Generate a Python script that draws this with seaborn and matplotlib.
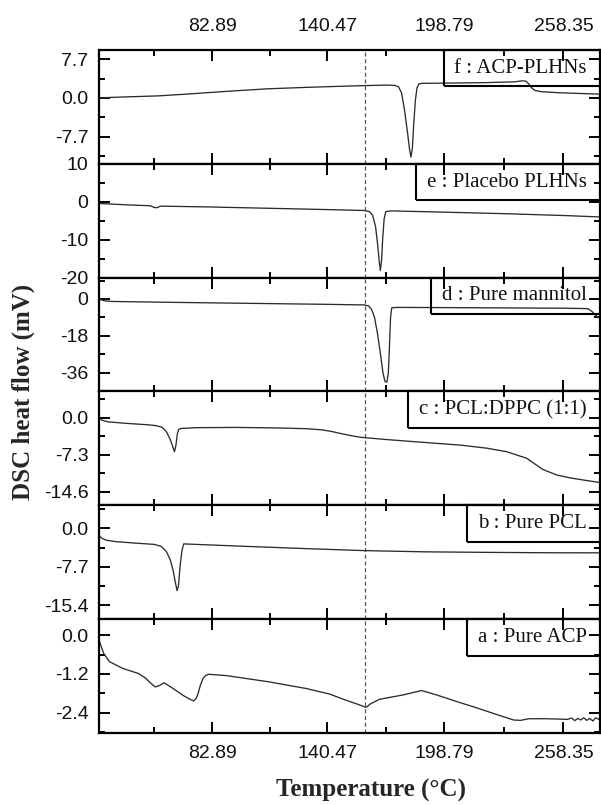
import numpy as np
import pandas as pd
import matplotlib
matplotlib.use("Agg")
import matplotlib.pyplot as plt
import seaborn as sns
from matplotlib.patches import Rectangle

# ---------------- data ----------------
temp_f = [26.4, 40, 56, 70, 90, 110, 130, 150, 159, 170, 174, 176, 177.5, 179, 180.5, 181.5, 182.2,
          182.9, 183.6, 184.4, 185.2, 186.2, 188, 200, 220, 234, 237.5, 239.5, 241, 242.5, 244, 247,
          255, 265, 276.6]
dsc_f = [0.0, 0.2, 0.4, 0.75, 1.3, 1.8, 2.1, 2.35, 2.45, 2.55, 2.5, 2.2, 1.0, -2.5, -7.0, -10.3, -11.8,
         -10.0, -5.0, -0.5, 2.0, 2.8, 2.9, 2.95, 3.05, 3.2, 3.4, 3.35, 2.8, 2.0, 1.5, 1.25,
         1.05, 0.9, 0.75]

temp_e = [26.4, 40, 52, 54, 55.5, 57, 80, 110, 140, 159, 161.5, 163, 164.5, 165.5, 166.3, 166.9,
          167.5, 168.1, 168.8, 169.6, 172, 200, 230, 260, 276.6]
dsc_e = [-0.45, -0.8, -1.05, -1.5, -1.55, -1.15, -1.35, -1.7, -2.05, -2.3, -2.6, -3.5, -6.5, -11,
         -15.5, -18.1, -15.5, -9.5, -4.5, -2.6, -2.4, -2.75, -3.15, -3.65, -4.0]

temp_d = [26.4, 28, 30, 33, 60, 100, 140, 159, 161, 162.5, 164, 165.5, 167, 168.2, 169.2, 170.2,
          170.9, 171.5, 172, 172.6, 175, 200, 230, 260, 270.5, 272.5, 274.5, 276.6]
dsc_d = [0.0, -0.6, -1.0, -1.2, -1.6, -2.1, -2.6, -2.9, -3.4, -5.0, -9.0, -17, -27, -36, -40.2,
         -40.5, -36, -22, -9, -4.3, -4.1, -4.2, -4.35, -4.5, -4.7, -6.0, -8.0, -9.6]

temp_c = [26.4, 28, 31, 40, 50, 55, 58, 60, 62, 63.3, 64.1, 64.8, 65.5, 66.2, 67.5, 75, 95, 115,
          130, 137, 142, 147, 152, 157, 170, 190, 207, 220, 230, 240, 248, 255, 262, 270, 276.6]
dsc_c = [0.0, -0.5, -0.8, -1.1, -1.35, -1.55, -1.9, -2.7, -4.3, -5.8, -6.7, -5.5, -3.2, -2.3, -2.1,
         -1.95, -1.9, -2.0, -2.15, -2.35, -2.65, -3.1, -3.5, -3.85, -4.3, -4.9, -5.4, -6.0, -6.7,
         -8.0, -10.2, -11.3, -11.9, -12.4, -12.8]

temp_b = [26.4, 28, 30, 35, 45, 54, 57.5, 60, 62, 63.5, 64.6, 65.4, 66.1, 66.9, 67.8, 68.7, 75, 100,
          130, 159, 190, 220, 250, 276.6]
dsc_b = [-1.5, -2.0, -2.35, -2.65, -2.95, -3.2, -3.6, -4.6, -6.3, -8.6, -11.0, -12.5, -11.5, -7.5,
         -4.5, -3.1, -3.2, -3.6, -4.05, -4.45, -4.7, -4.8, -4.88, -4.9]

temp_a = [26.4, 27.2, 28.7, 31.6, 38.3, 45.9, 49.7, 52.5, 54.5, 56.8, 58.9, 63.2, 68.9, 72.5, 73.7,
          75.0, 76.0, 77.0, 78.4, 79.8, 81.3, 90, 111, 130, 141.6, 149.3, 155, 159.8, 162, 166.5,
          178, 187.5, 195.2, 205, 214.3, 225, 233.5, 237, 241.1, 250, 260.3, 262.5, 264, 265.5,
          267, 268.5, 270, 271.5, 273, 274.5, 276, 276.6]
dsc_a = [-0.15, -0.3, -0.56, -0.82, -1.03, -1.18, -1.33, -1.5, -1.6, -1.55, -1.47, -1.64, -1.88,
         -2.0, -2.03, -1.95, -1.78, -1.55, -1.33, -1.24, -1.21, -1.25, -1.44, -1.65, -1.82, -2.0,
         -2.12, -2.23, -2.12, -1.98, -1.85, -1.71, -1.85, -2.05, -2.23, -2.45, -2.62, -2.63,
         -2.58, -2.58, -2.6, -2.56, -2.64, -2.57, -2.62, -2.55, -2.63, -2.57, -2.65, -2.55,
         -2.6, -2.56]

panel_labels = ["f : ACP-PLHNs", "e : Placebo PLHNs", "d : Pure mannitol",
                "c : PCL:DPPC (1:1)", "b : Pure PCL", "a : Pure ACP"]

x_ticks = [82.89, 140.47, 198.79, 258.35]
x_tick_labels = ["82.89", "140.47", "198.79", "258.35"]
x_minor = [54.1, 111.68, 169.63, 228.57]

y_ticks = [[7.7, 0.0, -7.7], [10, 0, -10, -20], [0, -18, -36],
           [0.0, -7.3, -14.6], [0.0, -7.7, -15.4], [0.0, -1.2, -2.4]]
y_tick_labels = [["7.7", "0.0", "-7.7"], ["10", "0", "-10", "-20"], ["0", "-18", "-36"],
                 ["0.0", "-7.3", "-14.6"], ["0.0", "-7.7", "-15.4"], ["0.0", "-1.2", "-2.4"]]
y_minor = [[3.85, -3.85, -11.55], [5, -5, -15], [9, -9, -27, -45],
           [3.65, -3.65, -10.95], [3.85, -3.85, -11.55], [-0.6, -1.8, -3.0]]
y_limits = [(-13.15, 9.55), (-20, 10), (-45.1, 10.4), (-17.3, 5.2), (-18.24, 4.66), (-3.02, 0.49)]

x_limits = (26.4, 276.6)
dashed_temp = 159.2

temps = [temp_f, temp_e, temp_d, temp_c, temp_b, temp_a]
dscs = [dsc_f, dsc_e, dsc_d, dsc_c, dsc_b, dsc_a]

frames = []
for lab, t, v in zip(panel_labels, temps, dscs):
    frames.append(pd.DataFrame({"Temperature": t, "DSC": v, "sample": lab}))
df = pd.concat(frames, ignore_index=True)

# ---------------- figure ----------------
sns.set_style("ticks")
plt.rcParams["font.family"] = ["Liberation Sans", "DejaVu Sans"]
plt.rcParams["axes.linewidth"] = 1.6

W, H = 601, 805
fig = plt.figure(figsize=(W / 100, H / 100), dpi=100)
ax_left, ax_right, ax_top, ax_bot = 99, 600, 50, 733
gs = fig.add_gridspec(6, 1, left=ax_left / W, right=ax_right / W,
                      top=1 - ax_top / H, bottom=1 - ax_bot / H, hspace=0)

panel_h_px = (ax_bot - ax_top) / 6
box_h = 36.5 / panel_h_px
text_right_px = 587

axes = []
for i, lab in enumerate(panel_labels):
    ax = fig.add_subplot(gs[i, 0])
    axes.append(ax)
    sub = df[df["sample"] == lab]
    sns.lineplot(data=sub, x="Temperature", y="DSC", ax=ax, sort=False, estimator=None,
                 color="#2b2b2b", linewidth=0.95)
    ax.axvline(dashed_temp, color="#555555", linewidth=0.9, linestyle=(0, (3.2, 2.2)), zorder=1)
    ax.set_xlim(*x_limits)
    ax.set_ylim(*y_limits[i])
    ax.set_xlabel("")
    ax.set_ylabel("")
    ax.set_xticks(x_ticks)
    ax.set_xticklabels(x_tick_labels)
    ax.set_xticks(x_minor, minor=True)
    ax.set_yticks(y_ticks[i])
    ax.set_yticklabels(y_tick_labels[i])
    ax.set_yticks(y_minor[i], minor=True)
    for sp in ax.spines.values():
        sp.set_visible(True)
        sp.set_linewidth(1.6)
        sp.set_color("black")
    ax.tick_params(which="both", direction="in", top=True, right=True, bottom=True, left=True,
                   color="black", labelsize=14, labelcolor="#111111")
    ax.tick_params(which="major", length=8, width=1.4)
    ax.tick_params(which="minor", length=4.5, width=1.4)
    ax.tick_params(axis="y", pad=7.5)
    ax.tick_params(axis="x", labelbottom=(i == 5), labeltop=(i == 0))
    if i == 0:
        ax.tick_params(axis="x", pad=11)
    if i == 5:
        ax.tick_params(axis="x", pad=8.5)

    # label box
    x_text = (text_right_px - ax_left) / (ax_right - ax_left)
    txt = ax.text(x_text, 1 - box_h / 2, lab, transform=ax.transAxes, ha="right", va="center",
                  fontsize=15, family=["Liberation Serif", "DejaVu Serif"], color="#111111",
                  zorder=5)
    axes[-1]._label_txt = txt

fig.canvas.draw()
renderer = fig.canvas.get_renderer()
for ax in axes:
    bb = ax._label_txt.get_window_extent(renderer=renderer)
    ax_bb = ax.get_window_extent(renderer=renderer)
    x0 = (bb.x0 - 11 - ax_bb.x0) / ax_bb.width
    rect = Rectangle((x0, 1 - box_h), 1.05 - x0, box_h, transform=ax.transAxes,
                     fill=False, edgecolor="black", linewidth=1.5, clip_on=False, zorder=4)
    ax.add_patch(rect)

fig.text(23 / W, 1 - 392 / H, "DSC heat flow (mV)", rotation=90, ha="center", va="center",
         fontsize=18, fontweight="bold", family=["Liberation Serif", "DejaVu Serif"])
fig.text(371 / W, 1 - 790 / H, "Temperature (°C)", ha="center", va="center",
         fontsize=18, fontweight="bold", family=["Liberation Serif", "DejaVu Serif"])

fig.savefig("out.png", dpi=100, facecolor="white")
